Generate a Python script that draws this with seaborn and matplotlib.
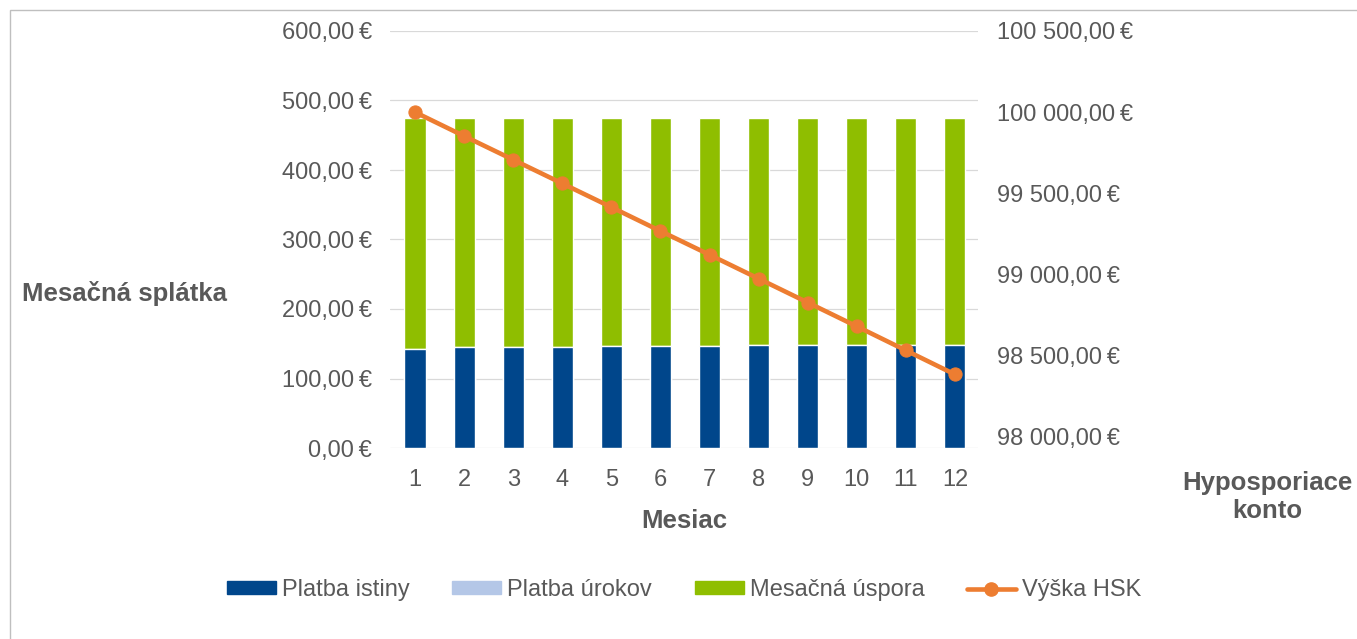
import matplotlib
matplotlib.use("Agg")
import matplotlib.pyplot as plt
import matplotlib.patches as mpatches
from matplotlib.lines import Line2D
from matplotlib.ticker import FuncFormatter
import seaborn as sns
import numpy as np

# data
mesiace = [1, 2, 3, 4, 5, 6, 7, 8, 9, 10, 11, 12]
platba_istiny = [143.0, 145.5, 145.7, 146.0, 146.2, 146.5, 146.8, 147.5, 147.8, 148.0, 148.3, 148.6]
platba_urokov = [0, 0, 0, 0, 0, 0, 0, 0, 0, 0, 0, 0]
splatka_spolu = [475.0] * 12
mesacna_uspora = [t - p - u for t, p, u in zip(splatka_spolu, platba_istiny, platba_urokov)]
vyska_hsk = [100000, 99853, 99707, 99561, 99415, 99268, 99122, 98975, 98828, 98681, 98533, 98385]

c_istina = "#00468b"
c_uroky = "#b4c7e7"
c_uspora = "#8fbe00"
c_hsk = "#ed7d31"
c_text = "#595959"

sns.set_style("white")
plt.rcParams['font.family'] = ['Liberation Sans', 'DejaVu Sans']

def eur(v, pos=None):
    s = f"{v:,.2f}".replace(",", " ").replace(".", ",")
    return s + "\u2009€"

fig = plt.figure(figsize=(13.57, 6.39), dpi=100)
ax = fig.add_axes([390 / 1357, 1 - 448 / 639, 588 / 1357, 417 / 639])

# stacked bars: full height first (green), then interest + principal, then principal
sns.barplot(x=mesiace, y=splatka_spolu, color=c_uspora, native_scale=True,
            width=0.43, saturation=1, ax=ax, zorder=2)
sns.barplot(x=mesiace, y=[p + u for p, u in zip(platba_istiny, platba_urokov)], color=c_uroky,
            native_scale=True, width=0.43, saturation=1, ax=ax, zorder=2)
sns.barplot(x=mesiace, y=platba_istiny, color=c_istina, native_scale=True,
            width=0.43, saturation=1, ax=ax, zorder=2)

ax.set_xlim(0.49, 12.47)
ax.set_ylim(0, 600)
ax.set_yticks(np.arange(0, 601, 100))
ax.yaxis.set_major_formatter(FuncFormatter(eur))
ax.set_xticks(mesiace)
ax.set_xticklabels([str(m) for m in mesiace])
ax.grid(axis="y", color="#d9d9d9", linewidth=0.9, zorder=0)
ax.set_axisbelow(True)
for s in ax.spines.values():
    s.set_visible(False)
ax.tick_params(axis="y", length=0, pad=13, labelsize=17, labelcolor=c_text)
ax.tick_params(axis="x", length=0, pad=15, labelsize=17, labelcolor=c_text)
ax.set_xlabel("")
ax.set_ylabel("")

ax2 = ax.twinx()
sns.lineplot(x=mesiace, y=vyska_hsk, color=c_hsk, linewidth=3.3, marker="o",
             markersize=9.5, markeredgecolor=c_hsk, ax=ax2, zorder=3)
ax2.set_ylim(97932, 100500)
ax2.set_yticks(np.arange(98000, 100501, 500))
ax2.yaxis.set_major_formatter(FuncFormatter(eur))
ax2.tick_params(axis="y", length=0, pad=14, labelsize=17, labelcolor=c_text)
ax2.grid(False)
for s in ax2.spines.values():
    s.set_visible(False)
ax2.set_ylabel("")

fig.text(22 / 1357, 1 - 293 / 639, "Mesačná splátka", fontsize=18.5, fontweight="bold",
         color=c_text, ha="left", va="center")
fig.text(684 / 1357, 1 - 521 / 639, "Mesiac", fontsize=18.5, fontweight="bold",
         color=c_text, ha="center", va="center")
fig.text(1267 / 1357, 1 - 497 / 639, "Hyposporiace\nkonto", fontsize=18.5, fontweight="bold",
         color=c_text, ha="center", va="center", linespacing=1.2)

handles = [
    mpatches.Patch(color=c_istina, label="Platba istiny"),
    mpatches.Patch(color=c_uroky, label="Platba úrokov"),
    mpatches.Patch(color=c_uspora, label="Mesačná úspora"),
    Line2D([0], [0], color=c_hsk, linewidth=3.3, marker="o", markersize=9.5, label="Výška HSK"),
]
leg = fig.legend(handles=handles, loc="center", bbox_to_anchor=(684 / 1357, 1 - 590 / 639),
                 ncol=4, frameon=False, fontsize=17, handlelength=2.08, handleheight=0.47,
                 handletextpad=0.25, columnspacing=1.8)
for t in leg.get_texts():
    t.set_color(c_text)

# thin frame like the source image
fig.add_artist(mpatches.Rectangle((10 / 1357, -0.1), 1.2, 1 - 10 / 639 + 0.1,
                                  transform=fig.transFigure, fill=False,
                                  edgecolor="#bfbfbf", linewidth=1))

fig.savefig("out.png", dpi=100)
